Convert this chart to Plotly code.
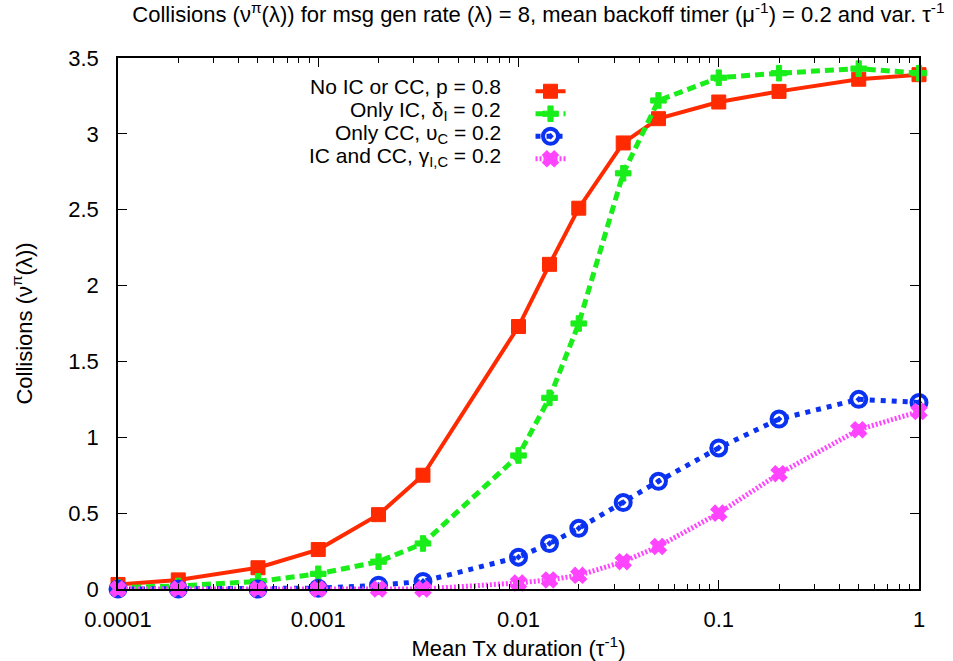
import plotly.graph_objects as go

x_vals = [0.0001, 0.0002, 0.0005, 0.001, 0.002, 1/300, 0.01, 1/70, 0.02, 1/30, 0.05, 0.1, 0.2, 0.5, 1.0]

no_ic_cc = [0.03, 0.06, 0.14, 0.26, 0.49, 0.75, 1.73, 2.14, 2.51, 2.94, 3.10, 3.21, 3.28, 3.36, 3.39]
only_ic = [0.01, 0.02, 0.05, 0.10, 0.18, 0.30, 0.88, 1.26, 1.75, 2.74, 3.22, 3.37, 3.40, 3.43, 3.40]
only_cc = [0.0, 0.0, 0.0, 0.005, 0.025, 0.05, 0.21, 0.30, 0.40, 0.57, 0.71, 0.93, 1.12, 1.25, 1.23]
ic_and_cc = [0.0, 0.0, 0.0, 0.0, 0.0, 0.0, 0.04, 0.06, 0.09, 0.18, 0.28, 0.50, 0.76, 1.05, 1.17]

series_names = [
    "No IC or CC, p = 0.8",
    "Only IC, δ<sub>I</sub> = 0.2",
    "Only CC, υ<sub>C</sub> = 0.2",
    "IC and CC, γ<sub>I,C</sub> = 0.2",
]

x_tickvals = [0.0001, 0.001, 0.01, 0.1, 1]
x_ticktext = ["0.0001", "0.001", "0.01", "0.1", "1"]
y_tickvals = [0, 0.5, 1, 1.5, 2, 2.5, 3, 3.5]
y_ticktext = ["0", "0.5", "1", "1.5", "2", "2.5", "3", "3.5"]

FONT = "Liberation Sans, Arial, Helvetica, sans-serif"
RED = "#ff2a00"
GREEN = "#1aee1a"
BLUE = "#0a32f0"
MAGENTA = "#ff44ff"

fig = go.Figure()
styles = [
    (no_ic_cc, RED, "solid", 4, "square", 14, 1),
    (only_ic, GREEN, "9px,5px", 5, "cross", 13, 1),
    (only_cc, BLUE, "5px,6px", 5, "circle-open-dot", 15, 4),
    (ic_and_cc, MAGENTA, "2px,2px", 5, "x", 13, 2),
]
for vals, col, dash, lw, sym, ms, mlw in styles:
    fig.add_trace(go.Scatter(
        x=x_vals, y=vals, mode="lines+markers", name=" ",
        line=dict(color=col, width=lw, dash=dash),
        marker=dict(symbol=sym, size=ms, color=col, line=dict(color=col, width=mlw)),
        cliponaxis=False,
    ))

# right-aligned legend texts
row_y = [0.9455, 0.900, 0.857, 0.8136]
for name, yy in zip(series_names, row_y):
    fig.add_annotation(x=0.4806, y=yy, xref="paper", yref="paper", text=name,
                       showarrow=False, xanchor="right", yanchor="middle",
                       font=dict(family=FONT, size=21, color="black"))

axis_common = dict(showline=True, linecolor="black", linewidth=1.5, mirror="ticks",
                   ticks="inside", tickcolor="black", tickwidth=1.2, showgrid=False,
                   zeroline=False, automargin=False,
                   tickfont=dict(family=FONT, size=22, color="black"))

fig.update_xaxes(type="log", range=[-4, 0], tickvals=x_tickvals, ticktext=x_ticktext,
                 ticklen=9, ticklabelstandoff=10,
                 minor=dict(ticks="inside", ticklen=5, tickcolor="black", tickwidth=1.2,
                            dtick="D1", showgrid=False),
                 title=dict(text="Mean Tx duration (τ<sup>-1</sup>)", standoff=14,
                            font=dict(family=FONT, size=22, color="black")),
                 **axis_common)
fig.update_yaxes(range=[0, 3.5], tickvals=y_tickvals, ticktext=y_ticktext,
                 ticklen=9, ticklabelstandoff=13,
                 title=dict(text="Collisions (ν<sup>π</sup>(λ))", standoff=30,
                            font=dict(family=FONT, size=22, color="black")),
                 **axis_common)

fig.update_layout(
    width=953, height=661,
    margin=dict(l=118, r=34, t=58, b=72),
    paper_bgcolor="white", plot_bgcolor="white",
    title=dict(text="Collisions (ν<sup>π</sup>(λ)) for msg gen rate (λ) = 8, mean backoff timer (μ<sup>-1</sup>) = 0.2 and var. τ<sup>-1</sup>",
               x=0.565, xanchor="center", y=0.99, yanchor="top",
               font=dict(family=FONT, size=22, color="black")),
    legend=dict(x=0.515, y=0.968, xanchor="left", yanchor="top",
                bgcolor="rgba(0,0,0,0)", font=dict(family=FONT, size=15),
                tracegroupgap=0),
    showlegend=True,
)

fig.write_html("out.html")
